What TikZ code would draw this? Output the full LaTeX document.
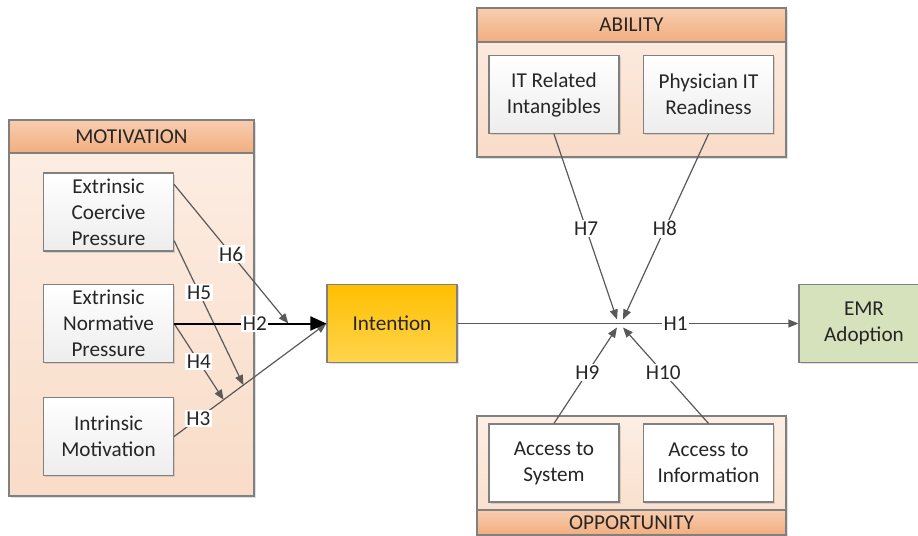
\documentclass[tikz,border=0pt]{standalone}
\usepackage{fontspec}
\setmainfont{Carlito}
\usetikzlibrary{arrows.meta,shadows,calc}

\definecolor{bodytop}{HTML}{FDEEE4}
\definecolor{bodybot}{HTML}{F9DCC8}
\definecolor{headtop}{HTML}{F8CDB0}
\definecolor{headbot}{HTML}{F2AE7E}
\definecolor{inttop}{HTML}{FFBF00}
\definecolor{intbot}{HTML}{FFD54F}
\definecolor{emrfill}{HTML}{D5E2BC}
\definecolor{linegray}{HTML}{595959}

\begin{document}
\begin{tikzpicture}[x=0.5pt,y=-0.5pt,
    font=\fontsize{10.6}{13}\selectfont,
    shadowed/.style={drop shadow={shadow xshift=0.8pt,shadow yshift=-0.8pt,opacity=0.25}},
    groupbody/.style={draw=black!50,line width=0.7pt,top color=bodytop,bottom color=bodybot,shadowed,inner sep=0pt},
    grouphead/.style={draw=black!50,line width=0.7pt,top color=headtop,bottom color=headbot,text=black!85,inner sep=0pt,minimum width=154.5pt},
    inbox/.style={draw=black!50,line width=0.6pt,top color=white,bottom color=black!7,text=black!85,align=center,minimum width=65pt,minimum height=39pt,inner sep=1pt,shadowed},
    h/.style={draw=linegray,line width=0.6pt,-{Triangle[length=5pt,width=4pt]}},
    hbig/.style={draw=black,line width=1pt,-{Triangle[length=8pt,width=7pt]}},
    lab/.style={fill=white,inner sep=0.8pt,text=black!85}]
  \clip (0,0) rectangle (918,536);
  %gruppi
  \node[groupbody,minimum width=122.5pt,minimum height=188pt] (motb) at (131.5,308) {};
  \node[grouphead,minimum width=122.5pt,minimum height=16.5pt] (moth) at (131.5,136.5) {MOTIVATION};
  \node[groupbody,minimum width=154.5pt,minimum height=74.5pt] (abb) at (631.5,82.5) {};
  \node[grouphead,minimum height=17pt] (abh) at (631.5,25) {ABILITY};
  \node[groupbody,minimum width=154.5pt,minimum height=59.5pt] (opb) at (631.5,475.5) {};
  \node[grouphead,minimum height=12.5pt] (oph) at (631.5,522.5) {OPPORTUNITY};
  %costrutti
  \node[inbox] (ecp) at (108.5,212) {Extrinsic\\Coercive\\Pressure};
  \node[inbox] (enp) at (108.5,323.5) {Extrinsic\\Normative\\Pressure};
  \node[inbox] (im) at (108.5,436.5) {Intrinsic\\Motivation};
  \node[inbox,top color=inttop,bottom color=intbot] (int) at (392,323.5) {Intention};
  \node[inbox,top color=emrfill,bottom color=emrfill] (emr) at (864,323.5) {EMR\\Adoption};
  \node[inbox] (iri) at (554,94.5) {IT Related\\Intangibles};
  \node[inbox] (pir) at (708.5,94.5) {Physician IT\\Readiness};
  \node[inbox,bottom color=white] (acs) at (554,463) {Access to\\System};
  \node[inbox,bottom color=white] (aci) at (708.5,463) {Access to\\Information};
  %punti di arrivo
  \coordinate (t6) at ($(enp.east)!0.75!(int.west)$);
  \coordinate (t5) at ($(im.east)!0.455!(int.west)$);
  \coordinate (t4) at ($(im.east)!0.325!(int.west)$);
  \coordinate (hub) at (620,323.5);
  %ipotesi
  \draw[h] (int.east) -- (emr.west) node[lab,pos=0.64] {H1};
  \draw[h] ($(ecp.north east)+(0,12)$) -- (t6) node[lab,pos=0.5] {H6};
  \draw[h] ($(ecp.south east)+(0,-11)$) -- (t5) node[lab,pos=0.36] {H5};
  \draw[h] (enp.east) -- (t4) node[lab,pos=0.5] {H4};
  \draw[h] (im.east) -- (int.west) node[lab,pos=0.16] {H3};
  \draw[hbig] (enp.east) -- (int.west) node[lab,pos=0.53] {H2};
  \draw[h] (iri.south) -- ($(hub)+(-3,-4)$) node[lab,pos=0.51] {H7};
  \draw[h] (pir.south) -- ($(hub)+(3,-4)$) node[lab,pos=0.51] {H8};
  \draw[h] (acs.north) -- ($(hub)+(-3,4)$) node[lab,pos=0.53] {H9};
  \draw[h] (aci.north) -- ($(hub)+(3,4)$) node[lab,pos=0.53] {H10};
\end{tikzpicture}
\end{document}
